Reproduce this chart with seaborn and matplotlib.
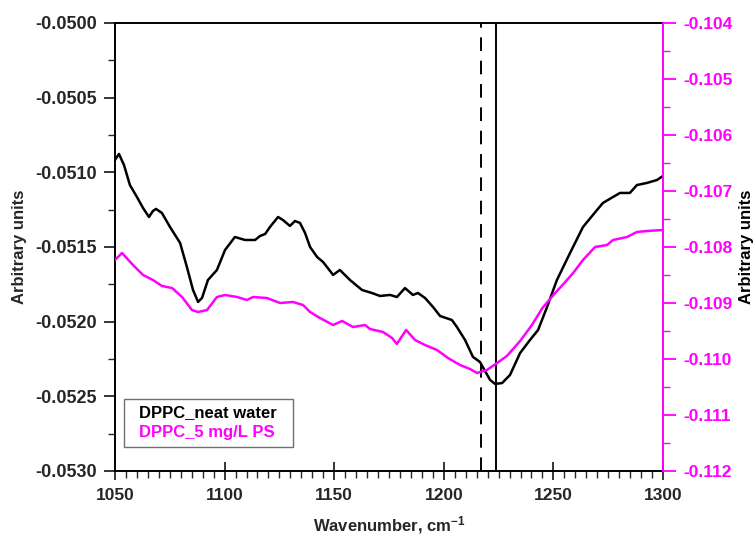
import numpy as np
import pandas as pd
import matplotlib
matplotlib.use("Agg")
import matplotlib.pyplot as plt
import seaborn as sns
from matplotlib.ticker import MultipleLocator, FormatStrFormatter
from matplotlib.patches import Rectangle

# ---- data ----
wn_neat = [1050.0, 1051.8, 1054.1, 1056.8, 1060.0, 1062.8, 1065.5, 1067.3, 1068.7, 1071.4,
           1075.1, 1079.7, 1082.8, 1085.6, 1087.9, 1089.7, 1092.4, 1096.5, 1100.2, 1104.7,
           1109.3, 1113.9, 1116.2, 1118.5, 1120.7, 1124.4, 1126.6, 1129.8, 1132.1, 1134.4,
           1136.7, 1139.0, 1142.2, 1144.9, 1149.5, 1152.6, 1157.2, 1162.7, 1167.2, 1170.9,
           1175.5, 1178.6, 1182.3, 1185.9, 1188.2, 1191.4, 1195.1, 1198.3, 1203.7, 1206.0,
           1209.7, 1213.3, 1216.5, 1221.1, 1223.4, 1226.6, 1230.2, 1234.8, 1239.3, 1243.0,
           1247.1, 1251.6, 1257.6, 1263.5, 1269.9, 1272.6, 1277.2, 1280.4, 1284.9, 1288.1,
           1292.7, 1297.3, 1300.0]
ab_neat = [-0.050917, -0.050877, -0.050951, -0.051085, -0.051165, -0.051239, -0.051299, -0.051259, -0.051245, -0.051272,
           -0.051366, -0.051473, -0.051634, -0.051788, -0.051868, -0.051841, -0.051721, -0.051654, -0.051520, -0.051433,
           -0.051453, -0.051453, -0.051426, -0.051413, -0.051366, -0.051299, -0.051319, -0.051359, -0.051326, -0.051339,
           -0.051406, -0.051500, -0.051567, -0.051600, -0.051687, -0.051654, -0.051721, -0.051788, -0.051808, -0.051828,
           -0.051821, -0.051835, -0.051775, -0.051821, -0.051808, -0.051841, -0.051902, -0.051962, -0.051989, -0.052036,
           -0.052123, -0.052236, -0.052270, -0.052390, -0.052417, -0.052411, -0.052357, -0.052210, -0.052123, -0.052056,
           -0.051902, -0.051721, -0.051540, -0.051366, -0.051252, -0.051205, -0.051165, -0.051138, -0.051138, -0.051085,
           -0.051071, -0.051051, -0.051024]

wn_ps = [1050.0, 1053.2, 1058.2, 1062.8, 1067.3, 1071.4, 1076.0, 1080.6, 1085.1, 1087.9,
         1092.0, 1096.5, 1100.2, 1105.7, 1110.2, 1113.0, 1119.3, 1125.3, 1131.2, 1135.8,
         1139.0, 1143.5, 1149.5, 1153.6, 1158.6, 1164.1, 1166.3, 1172.3, 1176.4, 1178.6,
         1182.8, 1186.9, 1191.4, 1196.9, 1201.9, 1207.4, 1212.0, 1215.1, 1219.7, 1224.3,
         1228.8, 1234.8, 1240.2, 1245.0, 1250.0, 1255.0, 1259.0, 1263.5, 1269.0, 1274.5,
         1277.2, 1283.6, 1288.1, 1292.7, 1300.0]
ab_ps = [-0.108232, -0.108107, -0.108321, -0.108500, -0.108589, -0.108696, -0.108732, -0.108893, -0.109125, -0.109161,
         -0.109125, -0.108893, -0.108857, -0.108893, -0.108946, -0.108893, -0.108911, -0.109000, -0.108982, -0.109036,
         -0.109161, -0.109268, -0.109393, -0.109321, -0.109429, -0.109393, -0.109464, -0.109518, -0.109625, -0.109732,
         -0.109482, -0.109661, -0.109750, -0.109839, -0.109982, -0.110107, -0.110179, -0.110250, -0.110196, -0.110071,
         -0.109946, -0.109679, -0.109393, -0.109089, -0.108857, -0.108643, -0.108464, -0.108232, -0.108000, -0.107964,
         -0.107875, -0.107821, -0.107732, -0.107714, -0.107696]

series_labels = ["DPPC_neat water", "DPPC_5 mg/L PS"]
x_ticks = [1050, 1100, 1150, 1200, 1250, 1300]
left_ticks = [-0.0530, -0.0525, -0.0520, -0.0515, -0.0510, -0.0505, -0.0500]
right_ticks = [-0.112, -0.111, -0.110, -0.109, -0.108, -0.107, -0.106, -0.105, -0.104]
vline_dashed = 1217
vline_solid = 1224

MAG = "#ff00ff"

sns.set_style("ticks")
plt.rcParams["font.family"] = ["Liberation Sans", "DejaVu Sans"]
plt.rcParams["font.weight"] = "bold"
plt.rcParams["mathtext.fontset"] = "custom"
plt.rcParams["mathtext.rm"] = "Liberation Sans:bold"
plt.rcParams["mathtext.it"] = "Liberation Sans:bold"
plt.rcParams["mathtext.bf"] = "Liberation Sans:bold"
plt.rcParams["axes.unicode_minus"] = False

fig = plt.figure(figsize=(7.56, 5.41), dpi=100)
ax = fig.add_axes([115/756, 1-471/541, 548/756, 448/541])
ax2 = ax.twinx()

df_neat = pd.DataFrame({"x": wn_neat, "y": ab_neat})
df_ps = pd.DataFrame({"x": wn_ps, "y": ab_ps})
sns.lineplot(data=df_neat, x="x", y="y", ax=ax, color="black", lw=1.8, sort=False, legend=False)
sns.lineplot(data=df_ps, x="x", y="y", ax=ax2, color=MAG, lw=1.8, sort=False, legend=False)

ax.axvline(vline_dashed, color="black", lw=1.4, dashes=(7, 5))
ax.axvline(vline_solid, color="black", lw=1.4)

ax.set_xlim(1050, 1300)
ax.set_ylim(-0.0530, -0.0500)
ax2.set_ylim(-0.112, -0.104)

ax.set_xticks(x_ticks)
ax.xaxis.set_minor_locator(MultipleLocator(5))
ax.set_yticks(left_ticks)
ax.yaxis.set_minor_locator(MultipleLocator(0.00025))
ax.yaxis.set_major_formatter(FormatStrFormatter("%.4f"))
ax2.set_yticks(right_ticks)
ax2.yaxis.set_minor_locator(MultipleLocator(0.0005))
ax2.yaxis.set_major_formatter(FormatStrFormatter("%.3f"))

ax.tick_params(axis="x", which="major", direction="inout", length=13, width=1.3, labelsize=12.5, pad=6)
ax.tick_params(axis="x", which="minor", direction="out", length=5, width=1.0)
ax.tick_params(axis="y", which="major", direction="out", length=8, width=1.3, labelsize=13, pad=5)
ax.tick_params(axis="y", which="minor", direction="out", length=5, width=1.0)
ax2.tick_params(axis="y", which="major", direction="out", length=9, width=1.3, labelsize=12.5, pad=6,
                color=MAG, labelcolor=MAG)
ax2.tick_params(axis="y", which="minor", direction="out", length=5, width=1.0, color=MAG)

for s in ["left", "top", "bottom"]:
    ax.spines[s].set_linewidth(1.4)
    ax.spines[s].set_color("black")
ax.spines["right"].set_visible(False)
for s in ["left", "top", "bottom"]:
    ax2.spines[s].set_visible(False)
ax2.spines["right"].set_color(MAG)
ax2.spines["right"].set_linewidth(1.4)

ax.set_xlabel("Wavenumber, cm$^{-1}$", fontsize=12, fontweight="bold", labelpad=8)
ax.set_ylabel("Arbitrary units", fontsize=12, fontweight="bold", labelpad=6)
ax2.set_ylabel("Arbitrary units", fontsize=12, fontweight="bold", color="black", va="center")
ax2.yaxis.set_label_coords((746-115)/548, 0.5)

# legend box (text only, coloured entries)
x0, x1 = (124-115)/548, (293-115)/548
y0, y1 = (471-447)/448, (471-399)/448
ax2.add_patch(Rectangle((x0, y0), x1-x0, y1-y0, transform=ax2.transAxes, facecolor="white",
                        edgecolor="#707070", lw=1.0, zorder=5))
ax2.text((139-115)/548, (471-413)/448, series_labels[0], transform=ax2.transAxes, color="black",
         fontsize=12, fontweight="bold", va="center", ha="left", zorder=6)
ax2.text((139-115)/548, (471-433)/448, series_labels[1], transform=ax2.transAxes, color=MAG,
         fontsize=12, fontweight="bold", va="center", ha="left", zorder=6)

fig.savefig("out.png", dpi=100)
